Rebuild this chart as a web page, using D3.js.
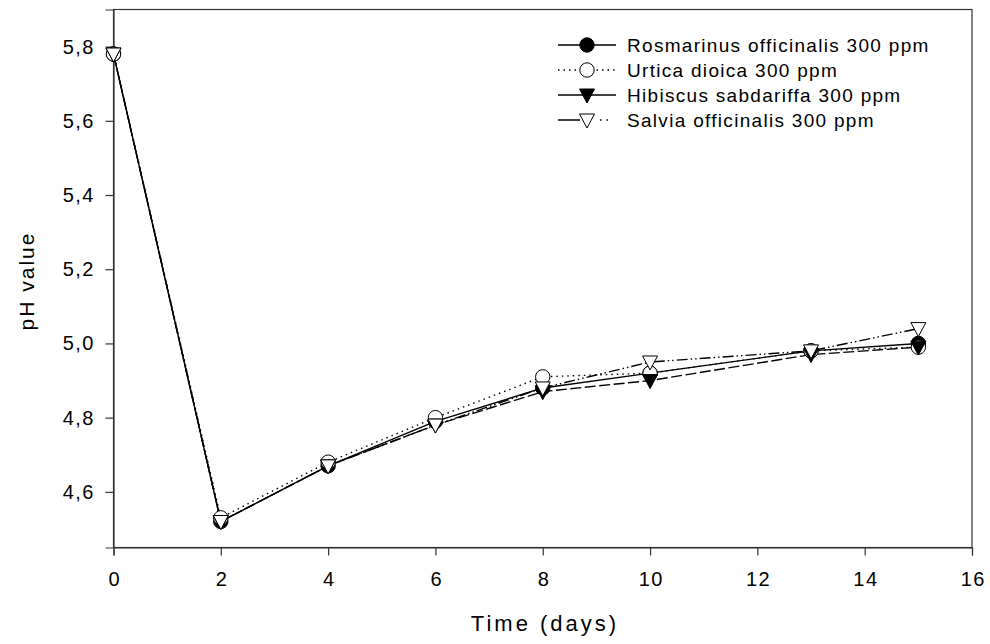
<!DOCTYPE html>
<html lang="en">
<head>
    <meta charset="UTF-8">
    <title>pH value over time</title>
    <script src="https://cdn.jsdelivr.net/npm/d3@7"></script>
    <style>
        body { margin: 0; background: #fff; }
        text { font-family: "Liberation Sans", Arial, sans-serif; fill: #000; }
    </style>
</head>
<body>
<svg width="990" height="644"></svg>
<script>
    const days = [0, 2, 4, 6, 8, 10, 13, 15]
    const rosmarinus = [5.78, 4.52, 4.67, 4.79, 4.88, 4.92, 4.98, 5.00]
    const urtica = [5.78, 4.53, 4.68, 4.80, 4.91, 4.92, 4.98, 4.99]
    const hibiscus = [5.78, 4.52, 4.67, 4.78, 4.87, 4.90, 4.97, 4.99]
    const salvia = [5.78, 4.52, 4.67, 4.78, 4.88, 4.95, 4.98, 5.04]
    const seriesNames = ["Rosmarinus officinalis 300 ppm", "Urtica dioica 300 ppm",
        "Hibiscus sabdariffa 300 ppm", "Salvia officinalis 300 ppm"]
    const xTicks = [0, 2, 4, 6, 8, 10, 12, 14, 16]
    const yTicks = [4.6, 4.8, 5.0, 5.2, 5.4, 5.6, 5.8]

    const series = [
        {name: seriesNames[0], values: rosmarinus, dash: null, legendDash: null, marker: "circle", fill: "#000"},
        {name: seriesNames[1], values: urtica, dash: "1.5,4", legendDash: "1.5,4", marker: "circle", fill: "#fff"},
        {name: seriesNames[2], values: hibiscus, dash: "11,3.5", legendDash: null, marker: "tri", fill: "#000"},
        {name: seriesNames[3], values: salvia, dash: "11,3,1.5,3,1.5,3", legendDash: "22,20,1.5,5,1.5,20", marker: "tri", fill: "#fff"}
    ]

    const plotLeft = 113.5, plotRight = 972, plotTop = 9.5, plotBottom = 547.5
    const svg = d3.select("svg")

    const x = d3.scaleLinear().domain([0, 16]).range([plotLeft, plotRight])
    const y = d3.scaleLinear().domain([4.45, 5.9]).range([plotBottom, plotTop])

    // frame
    svg.append("rect")
        .attr("x", plotLeft).attr("y", plotTop)
        .attr("width", plotRight - plotLeft).attr("height", plotBottom - plotTop)
        .attr("fill", "none").attr("stroke", "#333").attr("stroke-width", 1.2)

    const fmt = d => d3.format(".1f")(d).replace(".", ",")

    const xAxis = svg.append("g")
        .attr("transform", `translate(0,${plotBottom})`)
        .call(d3.axisBottom(x).tickValues(xTicks).tickSize(8).tickPadding(16).tickFormat(d3.format("d")))
    const yAxis = svg.append("g")
        .attr("transform", `translate(${plotLeft},0)`)
        .call(d3.axisLeft(y).tickValues(yTicks).tickSize(8).tickPadding(10.5).tickFormat(fmt))
    ;[xAxis, yAxis].forEach(a => {
        a.select(".domain").attr("stroke", "#333").attr("stroke-width", 1.2)
        a.selectAll(".tick line").attr("stroke", "#333").attr("stroke-width", 1.2)
        a.selectAll("text").attr("font-size", 20).attr("letter-spacing", 1.5)
            .attr("font-family", "Liberation Sans, Arial, sans-serif")
    })
    xAxis.selectAll("text").attr("dx", 0.75)

    svg.append("text")
        .attr("x", 545).attr("y", 631)
        .attr("text-anchor", "middle").attr("font-size", 22).attr("letter-spacing", 3)
        .text("Time (days)")
    svg.append("text")
        .attr("transform", `translate(34,281) rotate(-90)`)
        .attr("text-anchor", "middle").attr("font-size", 21).attr("letter-spacing", 2)
        .text("pH value")

    function drawMarker(g, type, cx, cy, fill) {
        if (type === "circle") {
            g.append("circle").attr("cx", cx).attr("cy", cy).attr("r", 7.2)
                .attr("fill", fill).attr("stroke", "#000").attr("stroke-width", 1)
        } else {
            g.append("path")
                .attr("d", `M${cx - 7.5},${cy - 6} L${cx + 7.5},${cy - 6} L${cx},${cy + 8} Z`)
                .attr("fill", fill).attr("stroke", "#000").attr("stroke-width", 1)
        }
    }

    const line = d3.line().x((d, i) => x(days[i])).y(d => y(d))
    const plot = svg.append("g")
    series.forEach(s => {
        plot.append("path")
            .attr("d", line(s.values))
            .attr("fill", "none").attr("stroke", "#000").attr("stroke-width", 1.4)
            .attr("stroke-dasharray", s.dash)
    })
    series.forEach(s => {
        s.values.forEach((v, i) => drawMarker(plot, s.marker, x(days[i]), y(v), s.fill))
    })

    // legend
    const legend = svg.append("g")
    series.forEach((s, i) => {
        const ly = 45 + i * 25
        legend.append("line")
            .attr("x1", 558).attr("x2", 616).attr("y1", ly).attr("y2", ly)
            .attr("stroke", "#000").attr("stroke-width", 1.4)
            .attr("stroke-dasharray", s.legendDash)
        drawMarker(legend, s.marker, 587, ly, s.fill)
        legend.append("text")
            .attr("x", 627).attr("y", ly + 6.5)
            .attr("font-size", 19).attr("letter-spacing", 1.3)
            .text(s.name)
    })
</script>
</body>
</html>
